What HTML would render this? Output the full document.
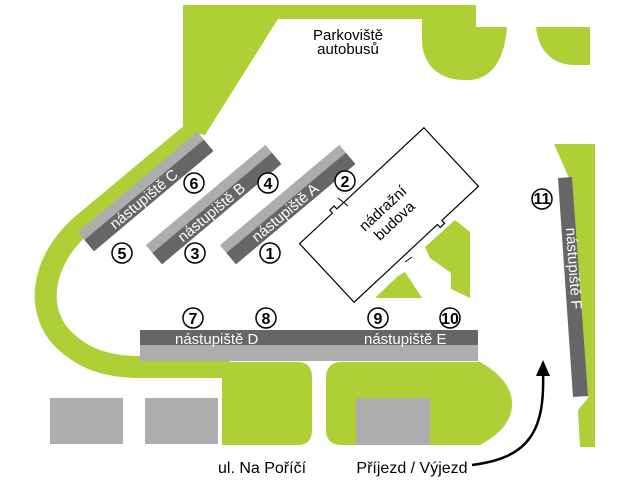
<!DOCTYPE html>
<html><head><meta charset="utf-8"><style>
html,body{margin:0;padding:0;background:#fff;width:640px;height:480px;overflow:hidden}
svg{display:block}
text{font-family:"Liberation Sans",sans-serif}
.n{font-family:"Liberation Sans Narrow","Liberation Sans",sans-serif;font-weight:bold;font-size:16px;text-anchor:middle}
.pl{fill:#fff;font-size:15px;font-family:"Liberation Sans Narrow","Liberation Sans",sans-serif}
</style></head><body>
<svg width="640" height="480" viewBox="0 0 640 480" xmlns="http://www.w3.org/2000/svg">
<g fill="#aecf36">
<polygon points="183,5 476,5 476,19 278,19 205,135 183,130"/>
<path d="M196,130 L82,225 C40,262 36,310 62,338 C82,358 105,367 140,367 L230,367" fill="none" stroke="#aecf36" stroke-width="22"/>
<path d="M422,19 L476,19 L476,27 L507,27 C505,55 495,78 470,80 C440,82 422,65 422,40 Z"/>
<path d="M536,27 L590,27 L590,65 L575,65 C552,65 538,50 536,27 Z"/>
<polygon points="554,144 595,144 595,447 580,447 578,410 588,398 572,178 569,178"/>
<polygon points="425,247 455,220 470,232 470,298 451,289 451,273 430,258"/>
<polygon points="375,298 422,298 405,272 398,276"/>
<path d="M222,362 L298,362 Q312,362 312,378 L312,430 Q312,445 298,445 L222,445 Z"/>
<path d="M342,362 L480,362 Q512,380 512,404 Q512,428 480,445 L342,445 Q326,445 326,430 L326,378 Q326,362 342,362 Z"/>
</g>
<g fill="#adadad">
<rect x="50" y="398" width="73" height="46"/>
<rect x="145" y="398" width="73" height="46"/>
<rect x="356" y="398" width="74" height="47"/>
</g>
<g transform="translate(146,192) rotate(-40)">
<rect x="-78" y="-13" width="156" height="10" fill="#adadad"/>
<rect x="-78" y="-3" width="156" height="15" fill="#666"/>
<text class="pl" x="-48" y="9">nástupiště C</text>
</g>
<g transform="translate(214,205) rotate(-40)">
<rect x="-78" y="-13" width="156" height="10" fill="#adadad"/>
<rect x="-78" y="-3" width="156" height="15" fill="#666"/>
<text class="pl" x="-48" y="9">nástupiště B</text>
</g>
<g transform="translate(288,205) rotate(-40)">
<rect x="-78" y="-13" width="156" height="10" fill="#adadad"/>
<rect x="-78" y="-3" width="156" height="15" fill="#666"/>
<text class="pl" x="-48" y="9">nástupiště A</text>
</g>
<rect x="140" y="330" width="338" height="15" fill="#666"/>
<rect x="140" y="345" width="338" height="16" fill="#adadad"/>
<text class="pl" x="175" y="344" font-size="17">nástupiště D</text>
<text class="pl" x="364" y="344" font-size="17">nástupiště E</text>
<polygon points="558,178 572,177 588,396 573,397" fill="#666"/>
<text class="pl" transform="translate(566,228) rotate(86)">nástupiště F</text>
<g transform="translate(389,215) rotate(-43)">
<path d="M-85,-40 L-40,-40 L-40,-44 L-34,-44 L-34,-40 L85,-40 L85,40 L35,40 L35,44 L29,44 L29,40 L-85,40 Z" fill="#fff" stroke="#000" stroke-width="1.2"/>
<text x="0" y="-4" font-size="15" text-anchor="middle">nádražní</text>
<text x="0" y="13" font-size="15" text-anchor="middle">budova</text>
</g>
<path d="M338,198 L348,206" stroke="#000" stroke-width="1"/>
<path d="M405,262 L412,257" stroke="#000" stroke-width="1"/>
<g fill="#fff" stroke="#000" stroke-width="1.5">
<circle cx="194" cy="183" r="10"/><circle cx="268" cy="183" r="10"/>
<circle cx="122" cy="253" r="10"/><circle cx="195" cy="253" r="10"/>
<circle cx="270" cy="253" r="10"/><circle cx="345" cy="181" r="10"/>
<circle cx="193" cy="318" r="10"/><circle cx="266" cy="318" r="10"/>
<circle cx="378" cy="318" r="10"/><circle cx="450" cy="318" r="10"/>
<circle cx="542" cy="199" r="10"/>
</g>
<text class="n" x="194" y="189">6</text><text class="n" x="268" y="189">4</text>
<text class="n" x="122" y="259">5</text><text class="n" x="195" y="259">3</text>
<text class="n" x="270" y="259">1</text><text class="n" x="345" y="187">2</text>
<text class="n" x="193" y="324">7</text><text class="n" x="266" y="324">8</text>
<text class="n" x="378" y="324">9</text><text class="n" x="450" y="324" font-size="14">10</text>
<text class="n" x="542" y="204" font-size="14">11</text>
<text x="348" y="40" font-size="15" text-anchor="middle">Parkoviště</text>
<text x="348" y="54" font-size="15" text-anchor="middle">autobusů</text>
<text x="262" y="473" font-size="16" text-anchor="middle" font-family="Liberation Sans Narrow, Liberation Sans, sans-serif">ul. Na Poříčí</text>
<text x="412" y="473" font-size="16" text-anchor="middle" font-family="Liberation Sans Narrow, Liberation Sans, sans-serif">Příjezd / Výjezd</text>
<path d="M472,465 C530,458 545,430 543,372" fill="none" stroke="#000" stroke-width="2.5"/>
<polygon points="543,360 536,376 550,376" fill="#000"/>
</svg>
</body></html>
